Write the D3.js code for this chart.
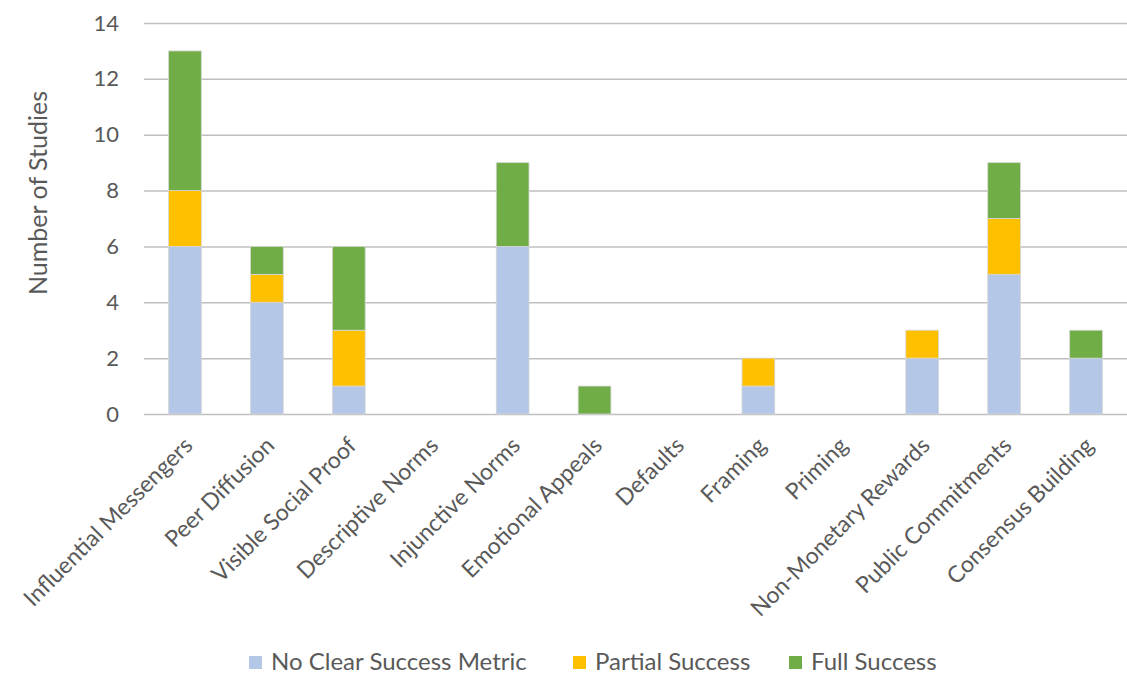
<!DOCTYPE html>
<html>
<head>
<meta charset="utf-8">
<script src="https://cdn.jsdelivr.net/npm/d3@7"></script>
<style>
  body { margin: 0; background: #fff; }
  svg { display: block; }
  svg text { font-family: Lato, "Open Sans", sans-serif; }
</style>
</head>
<body>
<svg id="chart" width="1127" height="677"></svg>
<script>
// Studies per intervention type, split by reported outcome
const categories = [
  "Influential Messengers", "Peer Diffusion", "Visible Social Proof", "Descriptive Norms",
  "Injunctive Norms", "Emotional Appeals", "Defaults", "Framing", "Priming",
  "Non-Monetary Rewards", "Public Commitments", "Consensus Building"
];
const noClearMetric = [6, 4, 1, 0, 6, 0, 0, 1, 0, 2, 5, 2];
const partialSuccess = [2, 1, 2, 0, 0, 0, 0, 1, 0, 1, 2, 0];
const fullSuccess = [5, 1, 3, 0, 3, 1, 0, 0, 0, 0, 2, 1];
const seriesNames = ["No Clear Success Metric", "Partial Success", "Full Success"];
const seriesColors = ["#b4c7e7", "#ffc000", "#70ad47"];
const yTicks = [0, 2, 4, 6, 8, 10, 12, 14];

const rows = categories.map((c, i) => ({
  category: c,
  "No Clear Success Metric": noClearMetric[i],
  "Partial Success": partialSuccess[i],
  "Full Success": fullSuccess[i]
}));

const svg = d3.select("#chart");
const margin = { left: 144, right: 0, top: 23, bottom: 263 };
const width = 1127 - margin.left - margin.right;
const height = 677 - margin.top - margin.bottom;

const g = svg.append("g").attr("transform", `translate(${margin.left},${margin.top})`);

const x = d3.scaleBand().domain(categories).range([0, width]).paddingInner(0.6).paddingOuter(0.3);
const y = d3.scaleLinear().domain([0, 14]).range([height, 0]);

// Horizontal gridlines with tick labels
const yAxis = g.append("g")
  .call(d3.axisLeft(y).tickValues(yTicks).tickSize(-width).tickPadding(25).tickFormat(d3.format("d")));
yAxis.select(".domain").remove();
yAxis.selectAll(".tick line").attr("stroke", "#bfbfbf").attr("stroke-width", 1.5);
yAxis.selectAll(".tick text").attr("fill", "#595959").style("font-size", "22px");

// Stacked bars
const stacked = d3.stack().keys(seriesNames)(rows);
const color = d3.scaleOrdinal().domain(seriesNames).range(seriesColors);

g.append("g").selectAll("g")
  .data(stacked)
  .join("g")
  .attr("fill", d => color(d.key))
  .selectAll("rect")
  .data(d => d.filter(p => p[1] - p[0] > 0))
  .join("rect")
  .attr("x", d => x(d.data.category))
  .attr("y", d => y(d[1]))
  .attr("width", x.bandwidth())
  .attr("height", d => y(d[0]) - y(d[1]))
  .attr("stroke", "#d6d6d6")
  .attr("stroke-width", 0.8);

// Category labels, rotated
const xAxis = g.append("g")
  .attr("transform", `translate(0,${height})`)
  .call(d3.axisBottom(x).tickSize(0).tickPadding(0));
xAxis.select(".domain").remove();
xAxis.selectAll(".tick text")
  .attr("fill", "#595959")
  .style("font-size", "23px")
  .attr("text-anchor", "end")
  .attr("dy", 0)
  .attr("transform", "translate(9,33) rotate(-45)");

// Y-axis title
svg.append("text")
  .attr("transform", "translate(47,193) rotate(-90)")
  .attr("text-anchor", "middle")
  .attr("fill", "#595959")
  .style("font-size", "25px")
  .text("Number of Studies");

// Legend
const legendX = [249, 573, 789];
const legend = svg.append("g").selectAll("g")
  .data(seriesNames)
  .join("g")
  .attr("transform", (d, i) => `translate(${legendX[i]},662)`);
legend.append("rect")
  .attr("x", 0).attr("y", -6).attr("width", 13).attr("height", 13)
  .attr("fill", d => color(d));
legend.append("text")
  .attr("x", 22).attr("y", 0).attr("dy", "0.35em")
  .attr("fill", "#595959")
  .style("font-size", "24px")
  .text(d => d);
</script>
</body>
</html>
